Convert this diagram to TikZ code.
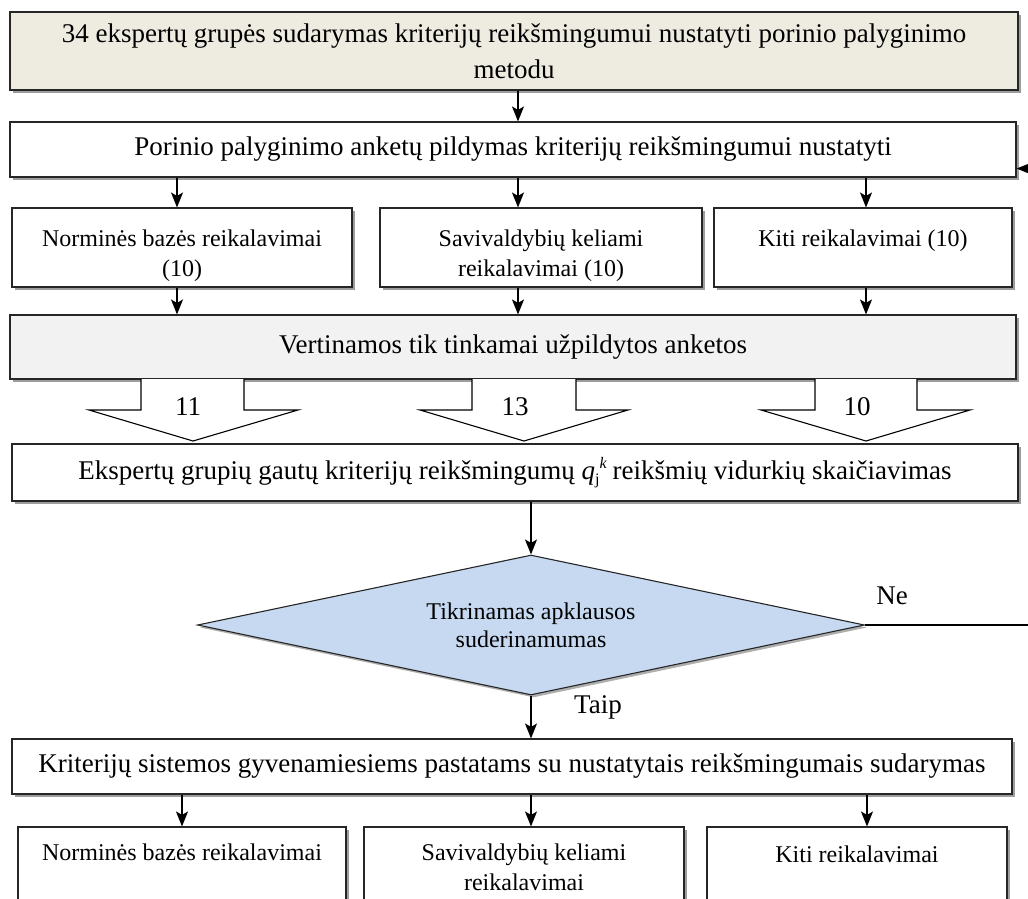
\documentclass[tikz,border=0pt]{standalone}
\usepackage{fontspec}
\setmainfont{Liberation Serif}
\usetikzlibrary{shadows,arrows.meta,calc,shapes.geometric}
\definecolor{beige}{HTML}{EEECE1}
\definecolor{lgray}{HTML}{F2F2F2}
\definecolor{lblue}{HTML}{C6D9F1}
\begin{document}
\begin{tikzpicture}[x=1pt,y=-1pt,
  big/.style={font=\fontsize{27}{31}\selectfont},
  small/.style={font=\fontsize{24}{30}\selectfont},
  bx/.style={draw=black!85, line width=1.1pt, fill=white, inner sep=0pt, align=center,
    drop shadow={shadow xshift=2.5pt, shadow yshift=-2.5pt, fill=black!70, opacity=0.55}},
  arr/.style={line width=1.4pt, -{Stealth[length=15pt,width=12pt,inset=3.5pt]}},
  blk/.style={draw=black, line width=1.1pt, fill=white},
  lbl/.style={big, inner sep=0pt},
]
\useasboundingbox (0,0) rectangle (1028,898);
\clip (0,0) rectangle (1028,898);

% column coordinates
\coordinate (c1) at (177,0);
\coordinate (c2) at (518,0);
\coordinate (c3) at (866,0);
\coordinate (d1) at (182,0);
\coordinate (d2) at (531,0);
\coordinate (d3) at (867,0);

% top box
\node[bx, big, fill=beige, minimum width=1008, minimum height=78, font=\fontsize{27}{36}\selectfont] (top) at (514,51)
  {34 ekspertų grupės sudarymas kriterijų reikšmingumui nustatyti porinio palyginimo\\metodu};

\node[bx, big, minimum width=1006, minimum height=55] (por) at (513,149.5)
  {Porinio palyginimo anketų pildymas kriterijų reikšmingumui nustatyti};

% row 3
\node[bx, small, minimum width=340, minimum height=79] (n1) at (182,247.5)
  {\parbox[c][79pt][t]{330pt}{\centering\vspace*{22pt}Norminės bazės reikalavimai\\(10)}};
\node[bx, small, minimum width=322, minimum height=79] (n2) at (541,247.5)
  {\parbox[c][79pt][t]{312pt}{\centering\vspace*{22pt}Savivaldybių keliami\\reikalavimai (10)}};
\node[bx, small, minimum width=298, minimum height=79] (n3) at (863,247.5)
  {\parbox[c][79pt][t]{288pt}{\centering\vspace*{22pt}Kiti reikalavimai (10)}};

% evaluation
\node[bx, big, fill=lgray, minimum width=1006, minimum height=64] (ver) at (513,347)
  {Vertinamos tik tinkamai užpildytos anketos};

% average calc
\node[bx, big, minimum width=1006, minimum height=57] (eks) at (515,472.5)
  {Ekspertų grupių gautų kriterijų reikšmingumų \textit{q}\raisebox{-5pt}{\fontsize{16}{16}\selectfont j}\raisebox{11pt}{\fontsize{16}{16}\selectfont\itshape k}\hspace{6pt}reikšmių vidurkių skaičiavimas};

% block arrows
\draw[blk] (141,379) -- (141,410) -- (89,410) -- (193,441) -- (298,410) -- (244,410) -- (244,379);
\draw[blk] (472,379) -- (472,410) -- (420,410) -- (524,441) -- (628,410) -- (576,410) -- (576,379);
\draw[blk] (815,379) -- (815,410) -- (761,410) -- (866,441) -- (970,410) -- (917,410) -- (917,379);
\node[lbl] (b1) at (188,407) {11};
\node[lbl] (b2) at (515,407) {13};
\node[lbl] (b3) at (857,407) {10};

% decision
\node[draw=black!85, line width=1.1pt, fill=lblue, diamond, aspect=4.76, inner sep=0pt,
  minimum width=667, minimum height=140, align=center, font=\fontsize{24}{28}\selectfont,
  drop shadow={shadow xshift=2.5pt, shadow yshift=-2.5pt, fill=black!70, opacity=0.45}] (dec) at (531,625)
  {Tikrinamas apklausos\\suderinamumas};

\node[bx, big, minimum width=1000, minimum height=55] (kri) at (512,766.5)
  {Kriterijų sistemos gyvenamiesiems pastatams su nustatytais reikšmingumais sudarymas};

% bottom row
\node[bx, small, minimum width=328, minimum height=133] (m1) at (182,893.5)
  {\parbox[c][133pt][t]{318pt}{\centering\vspace*{17pt}Norminės bazės reikalavimai}};
\node[bx, small, minimum width=320, minimum height=133] (m2) at (524,893.5)
  {\parbox[c][133pt][t]{310pt}{\centering\vspace*{17pt}Savivaldybių keliami\\reikalavimai}};
\node[bx, small, minimum width=300, minimum height=133] (m3) at (857,893.5)
  {\parbox[c][133pt][t]{290pt}{\centering\vspace*{19pt}Kiti reikalavimai}};

% connectors
\draw[arr] (top.south -| c2) -- (por.north -| c2);
\foreach \i/\c in {1/c1,2/c2,3/c3}{
  \draw[arr] (por.south -| \c) -- (n\i.north -| \c);
  \draw[arr] (n\i.south -| \c) -- (ver.north -| \c);
}
\draw[arr] (eks.south -| dec.north) -- (dec.north);
\draw[arr] (dec.south) -- (kri.north -| dec.south);
\foreach \i/\c in {1/d1,2/d2,3/d3}{
  \draw[arr] (kri.south -| \c) -- (m\i.north -| \c);
}
\draw[arr] (dec.east) -- ++(180,0) |- ($(por.south east)+(0,-9)$);

\node[lbl] (ne) at (892,596) {Ne};
\node[lbl] (taip) at (598,707) {Taip};
\end{tikzpicture}
\end{document}
